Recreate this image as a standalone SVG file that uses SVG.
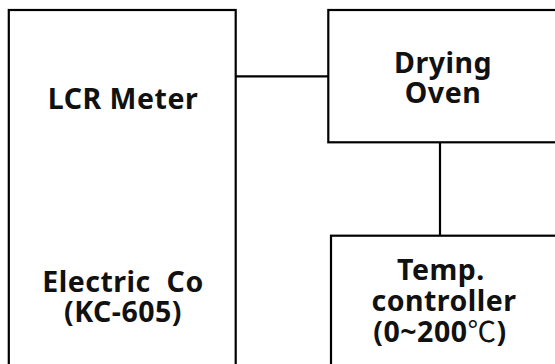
<svg xmlns="http://www.w3.org/2000/svg" width="555" height="364" viewBox="0 0 555 364">
<style>
.box{fill:#fff;stroke:#000;stroke-width:2.2}
.conn{stroke:#000;stroke-width:2.2;fill:none}
text{font-family:"Noto Sans","Open Sans","Noto Sans CJK KR",sans-serif;font-weight:bold;font-size:28.5px;letter-spacing:0.5px;fill:#111;text-anchor:middle}
.cjk{font-family:"Noto Sans CJK KR",sans-serif;font-weight:normal}
</style>
<rect width="555" height="364" fill="#fff"/>
<g id="connectors">
<line class="conn" x1="235.7" y1="76.3" x2="328.3" y2="76.3"/>
<line class="conn" x1="440" y1="142.3" x2="440" y2="235.7"/>
</g>
<g id="lcr">
<rect class="box" x="8.8" y="10" width="226.9" height="370"/>
<text x="123" y="109">LCR Meter</text>
<text x="123" y="292" xml:space="preserve">Electric  Co</text>
<text x="123" y="322">(KC-605)</text>
</g>
<g id="oven">
<rect class="box" x="328.3" y="10" width="240" height="132.3"/>
<text x="443" y="73">Drying</text>
<text x="443" y="103">Oven</text>
</g>
<g id="temp">
<rect class="box" x="331" y="235.7" width="240" height="150"/>
<text x="441" y="280">Temp.</text>
<text x="444" y="311">controller</text>
<text x="440" y="342">(0~200<tspan class="cjk">℃</tspan>)</text>
</g>
</svg>
